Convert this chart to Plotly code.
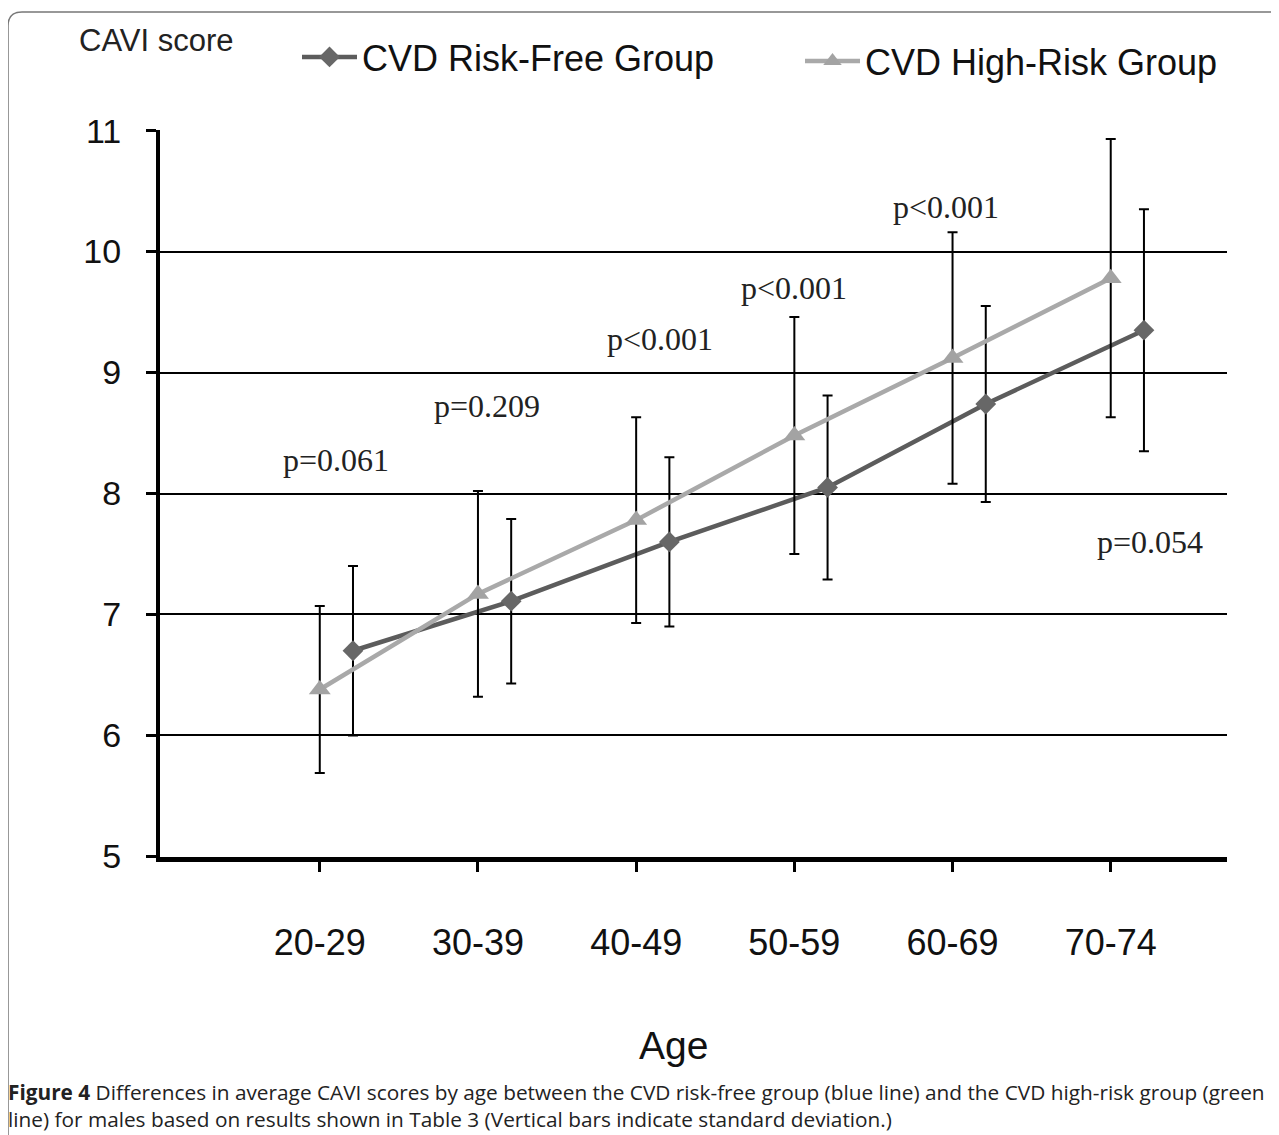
import plotly.graph_objects as go

# ---------------- data ----------------
age_groups = ["20-29", "30-39", "40-49", "50-59", "60-69", "70-74"]
risk_free_mean = [6.70, 7.11, 7.60, 8.05, 8.74, 9.35]
risk_free_sd = [0.70, 0.68, 0.70, 0.76, 0.81, 1.00]
high_risk_mean = [6.38, 7.17, 7.78, 8.48, 9.12, 9.78]
high_risk_sd = [0.69, 0.85, 0.85, 0.98, 1.04, 1.15]
p_labels = ["p=0.061", "p=0.209", "p<0.001", "p<0.001", "p<0.001", "p=0.054"]
y_ticks = [5, 6, 7, 8, 9, 10, 11]

# ---------------- layout constants ----------------
FIG_W, FIG_H = 1279, 1135
SHIFT = 8  # page body margin in the browser
PLOT_X0, PLOT_X1, PLOT_Y0, PLOT_Y1 = 160, 1227, 130, 857  # target pixel box on the page
L = PLOT_X0 - SHIFT
T = PLOT_Y0 - SHIFT
R = FIG_W - (PLOT_X1 - SHIFT)
B = FIG_H - (PLOT_Y1 - SHIFT)
PW = PLOT_X1 - PLOT_X0
PH = PLOT_Y1 - PLOT_Y0
OFFSET = 0.21  # risk-free series drawn slightly right of category position


def px_x(X):
    return (X - PLOT_X0) / PW


def px_y(Y):
    return (PLOT_Y1 - Y) / PH


idx = list(range(len(age_groups)))
idx_rf = [i + OFFSET for i in idx]

fig = go.Figure()

fig.add_trace(go.Scatter(
    x=idx_rf, y=risk_free_mean, name="CVD Risk-Free Group",
    mode="lines+markers",
    line=dict(color="#5c5c5c", width=4.5),
    marker=dict(symbol="diamond", size=16, color="#676767"),
    error_y=dict(type="data", array=risk_free_sd, color="black", thickness=2, width=5),
    legend="legend",
))
fig.add_trace(go.Scatter(
    x=idx, y=high_risk_mean, name="CVD High-Risk Group",
    mode="lines+markers",
    line=dict(color="#a9a9a9", width=4.5),
    marker=dict(symbol="triangle-up", size=19, color="#a3a3a3"),
    error_y=dict(type="data", array=high_risk_sd, color="black", thickness=2, width=5),
    legend="legend2",
))

# p-value label positions (category index, y value)
p_pos = [(0.10, 8.28), (1.06, 8.72), (2.15, 9.28), (3.00, 9.70), (3.96, 10.37), (5.25, 7.60)]
annotations = []
for txt, (xx, yy) in zip(p_labels, p_pos):
    annotations.append(dict(x=xx, y=yy, xref="x", yref="y", text=txt, showarrow=False,
                            font=dict(family="Liberation Serif", size=32, color="#222")))

annotations.append(dict(x=px_x(77), y=px_y(40), xref="paper", yref="paper", text="CAVI score",
                        showarrow=False, xanchor="left", yanchor="middle",
                        font=dict(family="Liberation Sans", size=31, color="#222")))

annotations.append(dict(x=px_x(673), y=px_y(1045), xref="paper", yref="paper", text="Age",
                        showarrow=False, xanchor="center", yanchor="middle",
                        font=dict(family="Liberation Sans", size=39, color="#111")))

caption = ("<b>Figure 4</b> Differences in average CAVI scores by age between the CVD risk-free group (blue line) "
           "and the CVD high-risk group (green<br>line) for males based on results shown in Table 3 "
           "(Vertical bars indicate standard deviation.)")
annotations.append(dict(x=px_x(6), y=px_y(1076), xref="paper", yref="paper", text=caption,
                        showarrow=False, xanchor="left", yanchor="top", align="left",
                        font=dict(family="Open Sans", size=20.8, color="#222")))

# rounded border of the figure panel
x0, x1 = px_x(8), px_x(1300)
y0, y1 = px_y(12), px_y(1150)
rx, ry = 14 / PW, 14 / PH
border_path = (f"M {x0+rx},{y0} L {x1},{y0} L {x1},{y1} L {x0},{y1} "
               f"L {x0},{y0-ry} Q {x0},{y0} {x0+rx},{y0} Z")

legend_common = dict(orientation="h", xanchor="left", yanchor="top",
                     font=dict(family="Liberation Sans", size=36, color="#111"),
                     bgcolor="rgba(0,0,0,0)", itemwidth=55)

fig.update_layout(
    width=FIG_W, height=FIG_H,
    margin=dict(l=L, r=R, t=T, b=B),
    paper_bgcolor="white", plot_bgcolor="white",
    font=dict(family="Liberation Sans", color="#111"),
    showlegend=True,
    legend=dict(x=px_x(297), y=px_y(27), **legend_common),
    legend2=dict(x=px_x(800), y=px_y(31), **legend_common),
    annotations=annotations,
    shapes=[dict(type="path", path=border_path, xref="paper", yref="paper",
                 line=dict(color="#777", width=1.5), layer="below")],
    xaxis=dict(
        range=[-1.01, 5.735], tickmode="array", tickvals=idx, ticktext=age_groups,
        showline=True, linecolor="black", linewidth=5, mirror=False,
        ticks="outside", ticklen=10, tickwidth=3, tickcolor="black",
        showgrid=False, zeroline=False, ticklabelstandoff=40,
        tickfont=dict(size=36, color="#111"),
    ),
    yaxis=dict(
        range=[4.995, 11.005], tickmode="array", tickvals=y_ticks,
        showline=True, linecolor="black", linewidth=4,
        ticks="outside", ticklen=10, tickwidth=3, tickcolor="black",
        showgrid=True, gridcolor="black", gridwidth=2, zeroline=False,
        ticklabelstandoff=18,
        tickfont=dict(size=34, color="#111"),
    ),
)

fig.write_html("out.html")
